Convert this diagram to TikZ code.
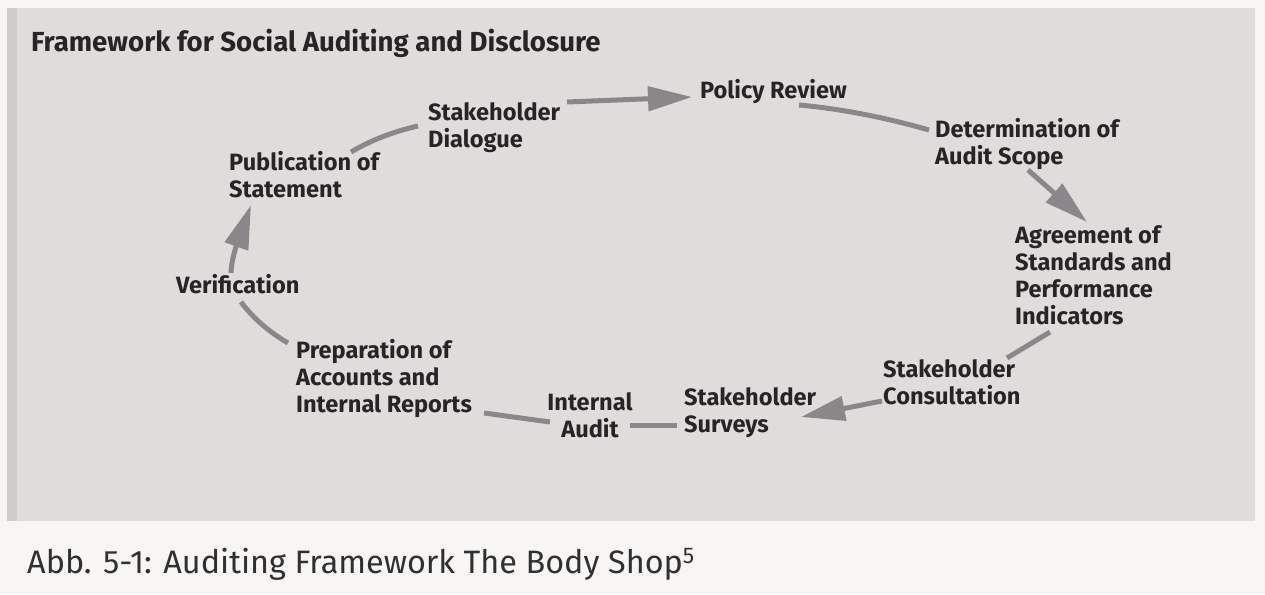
\documentclass[tikz,border=0pt]{standalone}
\usepackage{fontspec}
\setmainfont{Fira Sans}
\usetikzlibrary{arrows.meta,calc}

\definecolor{paper}{HTML}{DFDDDC}
\definecolor{paperedge}{HTML}{CFCCCB}
\definecolor{sheet}{HTML}{F7F6F5}
\definecolor{ink}{HTML}{2A2326}
\definecolor{linkgray}{HTML}{8A878A}
\definecolor{capink}{HTML}{303030}

% multi-line labels whose baseline is that of their first line
\newcommand\leftlines[1]{\vtop{\halign{##\hfil\cr#1\crcr}}}
\newcommand\centerlines[1]{\vtop{\halign{\hfil##\hfil\cr#1\crcr}}}

\tikzset{
  lbl/.style={anchor=base west, inner sep=0pt, text=ink,
    font=\bfseries\fontsize{23.6}{27}\selectfont},
  link/.style={draw=linkgray, line width=5pt},
  headlink/.style={link, -{Triangle[length=44pt,width=24pt]}},
}

\begin{document}
\begin{tikzpicture}[x=1pt,y=-1pt]
  \useasboundingbox (0,0) rectangle (1265,594);
  \fill[sheet] (0,0) rectangle (1265,594);
  \fill[paper] (7,8) rectangle (1255,521);
  \fill[paperedge] (7,8) rectangle (17,521);

  % title and caption
  \node[anchor=base west, inner sep=0pt, text=ink,
        font=\bfseries\fontsize{27.6}{32}\selectfont] (title) at (31,52)
    {Framework for Social Auditing and Disclosure};
  \node[anchor=base west, inner sep=0pt, text=capink,
        font=\fontsize{32.4}{38}\selectfont] (caption) at (27,573)
    {Abb. 5-1: Auditing Framework The Body Shop\textsuperscript{5}};

  % steps of the cycle
  \node[lbl] (dia)  at (428,120)  {\leftlines{Stakeholder\cr Dialogue}};
  \node[lbl] (pol)  at (700,98)   {Policy Review};
  \node[lbl] (det)  at (935,137)  {\leftlines{Determination of\cr Audit Scope}};
  \node[lbl] (agr)  at (1015,243) {\leftlines{Agreement of\cr Standards and\cr Performance\cr Indicators}};
  \node[lbl] (con)  at (883,377)  {\leftlines{Stakeholder\cr Consultation}};
  \node[lbl] (sur)  at (684,405)  {\leftlines{Stakeholder\cr Surveys}};
  \node[lbl, anchor=base] (aud) at (590,410) {\centerlines{Internal\cr Audit}};
  \node[lbl] (prep) at (296,358)  {\leftlines{Preparation of\cr Accounts and\cr Internal Reports}};
  \node[lbl] (ver)  at (176,293)  {Verification};
  \node[lbl] (pub)  at (229,170)  {\leftlines{Publication of\cr Statement}};

  % connectors
  \draw[link] ($(pub.base west)+(122,-18)$) .. controls (373,139) and (396,131) .. ($(dia.base west)+(-10,6)$);
  \draw[headlink] ($(dia.base west)+(139,-18)$) -- ($(pol.base west)+(-8,-1)$);
  \draw[link] ($(pol.base west)+(99,7)$) .. controls (843,109) and (887,118) .. ($(det.base west)+(-6,-7)$);
  \draw[headlink] ($(det.base west)+(93,33)$) -- ($(agr.base west)+(72,-21)$);
  \draw[link] ($(agr.base west)+(35,89)$) -- ($(con.base west)+(124,-19)$);
  \draw[headlink] ($(con.base west)+(-1,24)$) -- ($(sur.base west)+(117,12)$);
  \draw[link] ($(aud.base)+(40,15)$) -- ($(sur.base west)+(-7,20)$);
  \draw[link] ($(prep.base west)+(188,55)$) -- ($(aud.base)+(-40,12)$);
  \draw[link] ($(prep.base west)+(-8,-15)$) .. controls (269,332) and (253,318) .. ($(ver.base west)+(65,9)$);
  \draw[headlink] ($(ver.base west)+(55,-20)$) .. controls (231,255) and (245,222) .. ($(pub.base west)+(22,35)$);
\end{tikzpicture}
\end{document}
